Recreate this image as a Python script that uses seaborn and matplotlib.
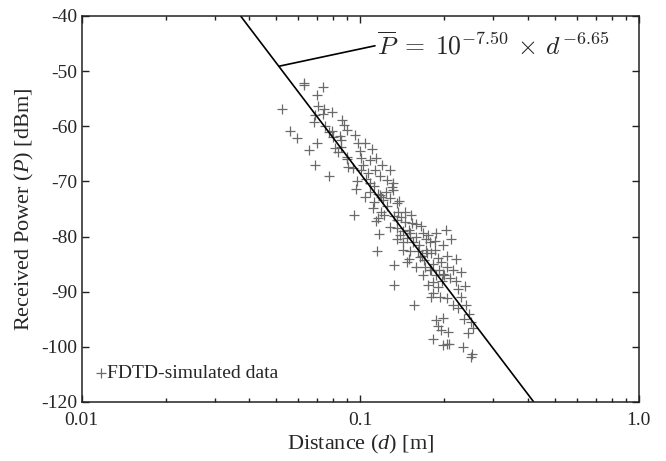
import numpy as np
import pandas as pd
import matplotlib
matplotlib.use("Agg")
import matplotlib.pyplot as plt
from matplotlib.ticker import LogLocator, NullFormatter
import seaborn as sns

# --- datos (d en m, P en dBm) ---
dist = [0.0630, 0.0630, 0.0733, 0.0698, 0.0525, 0.0707, 0.0741, 0.0790, 0.0688, 0.0733,
        0.0684, 0.0747, 0.0794, 0.0858, 0.0875, 0.0894, 0.0560, 0.0595, 0.0698, 0.0657,
        0.0846, 0.0851, 0.0812, 0.0835, 0.0688, 0.0773, 0.0894, 0.0902,
        0.1006, 0.1022, 0.1006, 0.1144, 0.1197, 0.1279, 0.1069, 0.1313, 0.1297, 0.0966,
        0.1084, 0.1162, 0.1191, 0.1240, 0.1113, 0.1191, 0.1162, 0.1144, 0.0951, 0.1353,
        0.1370, 0.1353, 0.1171, 0.1151, 0.1325, 0.1325,
        0.1448, 0.1530, 0.1390, 0.1510, 0.1680, 0.1751, 0.1877, 0.2027, 0.1428, 0.1510,
        0.1616, 0.1730, 0.1803, 0.1856, 0.1982, 0.1469, 0.1640, 0.1711, 0.1803, 0.1951,
        0.2043, 0.1982, 0.1827, 0.1907, 0.1827, 0.1803, 0.1934, 0.2043, 0.1555, 0.1877,
        0.1982, 0.1907, 0.1951, 0.1820, 0.1982, 0.2043,
        0.209, 0.234, 0.249, 0.252, 0.243, 0.207,
        0.105, 0.108, 0.112, 0.118, 0.121, 0.125, 0.128, 0.132, 0.136, 0.140,
        0.143, 0.147, 0.150, 0.155, 0.158, 0.162, 0.166, 0.170, 0.174, 0.178,
        0.183, 0.187, 0.192, 0.196, 0.200, 0.125, 0.131, 0.138, 0.145, 0.152,
        0.158, 0.165, 0.172, 0.178, 0.185, 0.190, 0.168, 0.175, 0.158, 0.150,
        0.142, 0.135, 0.128, 0.122, 0.112, 0.104, 0.097, 0.094, 0.090, 0.085,
        0.080, 0.077, 0.100, 0.108, 0.113, 0.118, 0.096, 0.104, 0.110, 0.098,
        0.215, 0.220, 0.225, 0.230, 0.240, 0.245, 0.250, 0.235, 0.255, 0.225,
        0.215, 0.210, 0.205, 0.212, 0.220, 0.230, 0.238]
power = [-52.1, -52.6, -52.9, -54.3, -56.9, -56.4, -56.9, -57.5, -58.0, -57.8,
         -59.2, -59.9, -60.8, -58.9, -59.8, -60.7, -60.8, -62.2, -63.1, -64.3,
         -61.8, -62.5, -64.0, -64.6, -67.0, -69.0, -65.5, -67.3,
         -65.8, -67.0, -67.9, -65.8, -67.0, -67.9, -68.5, -70.3, -71.0, -71.4,
         -72.0, -72.2, -72.8, -71.9, -74.9, -75.5, -76.7, -77.1, -76.1, -74.0,
         -75.5, -78.5, -79.5, -82.6, -85.2, -88.8,
         -77.3, -77.6, -79.7, -79.4, -79.4, -79.7, -79.4, -78.8, -82.4, -82.7,
         -82.7, -82.4, -83.0, -82.4, -81.5, -84.6, -83.7, -85.5, -86.1, -84.6,
         -85.5, -86.7, -88.2, -89.1, -90.3, -90.9, -90.9, -91.2, -92.4, -95.1,
         -94.8, -96.3, -96.9, -98.6, -99.7, -99.4,
         -99.5, -100.0, -101.8, -101.3, -97.5, -97.3,
         -69.5, -70.2, -70.8, -72.5, -73.3, -74.5, -73.0, -76.2, -77.0, -76.5,
         -79.0, -80.2, -78.8, -81.0, -80.0, -81.5, -83.5, -84.2, -83.0, -86.0,
         -85.0, -87.0, -86.0, -88.0, -87.0, -69.8, -71.5, -73.5, -75.5, -76.0,
         -77.8, -78.0, -80.5, -81.0, -80.8, -83.8, -87.0, -88.8, -85.5, -84.0,
         -81.0, -80.5, -78.2, -76.0, -73.8, -72.8, -70.0, -67.5, -66.0, -63.8,
         -62.0, -61.0, -64.5, -66.2, -68.0, -69.0, -61.5, -63.0, -64.2, -63.0,
         -86.0, -88.0, -89.5, -91.0, -92.5, -94.0, -95.5, -95.0, -96.5, -93.0,
         -92.5, -87.5, -83.5, -80.5, -84.0, -86.5, -89.0]

# recta de ajuste y anotacion
fit_d = [0.0372, 0.420]
fit_p = [-40, -110]
ann_d = [0.0512, 0.113]
ann_p = [-49.1, -45.4]

# marcas del eje y (la ultima aparece rotulada -120 en la figura)
yticks = [-110, -100, -90, -80, -70, -60, -50, -40]
ytick_labels = ["-120", "-100", "-90", "-80", "-70", "-60", "-50", "-40"]

datos = pd.DataFrame({"Distance": dist, "Power": power})

# --- estilo ---
sns.set_style("ticks")
plt.rcParams["font.family"] = ["Liberation Serif", "DejaVu Serif"]
plt.rcParams["mathtext.fontset"] = "custom"
plt.rcParams["mathtext.rm"] = "Liberation Serif"
plt.rcParams["mathtext.it"] = "Liberation Serif:italic"
plt.rcParams["axes.unicode_minus"] = False

fig = plt.figure(figsize=(6.66, 4.61), dpi=100)
ax = fig.add_axes([0.1227, 0.128, 0.8363, 0.8373])

sns.scatterplot(data=datos, x="Distance", y="Power", marker="+", color="#6a6a6a",
                s=52, linewidth=0.9, ax=ax, label="FDTD-simulated data")
sns.lineplot(x=fit_d, y=fit_p, color="black", linewidth=1.2, ax=ax, label="_nolegend_")
sns.lineplot(x=ann_d, y=ann_p, color="black", linewidth=1.2, ax=ax, label="_nolegend_")

ax.text(0.1145, -46.9, r"$\overline{P}\;=\;10^{-7.50}\,\times\,d^{-6.65}$",
        fontsize=18.5, math_fontfamily="cm", ha="left", va="baseline")

ax.set_xscale("log")
ax.set_xlim(0.01, 1.0)
ax.set_ylim(-110, -40)
ax.set_xticks([0.01, 0.1, 1.0])
ax.set_xticklabels(["0.01", "0.1", "1.0"])
ax.xaxis.set_minor_locator(LogLocator(base=10, subs=np.arange(2, 10)))
ax.xaxis.set_minor_formatter(NullFormatter())
ax.set_yticks(yticks)
ax.set_yticklabels(ytick_labels)
ax.tick_params(which="both", direction="in", top=True, right=True, labelsize=14,
               width=1.0, color="#222222")
ax.tick_params(which="major", length=5)
ax.tick_params(which="minor", length=3)
ax.tick_params(axis="x", pad=7)
ax.tick_params(axis="y", pad=3)
for sp in ax.spines.values():
    sp.set_linewidth(1.1)
    sp.set_color("#222222")

ax.set_xlabel("Distance ($d$) [m]", fontsize=16, labelpad=3)
ax.set_ylabel("Received Power ($P$) [dBm]", fontsize=16, labelpad=4)

ax.legend(loc="center left", bbox_to_anchor=(0.0167, 0.075), frameon=False,
          fontsize=14, handletextpad=0.0, handlelength=0.6, borderpad=0.2,
          borderaxespad=0.0)

fig.savefig("out.png", dpi=100)
